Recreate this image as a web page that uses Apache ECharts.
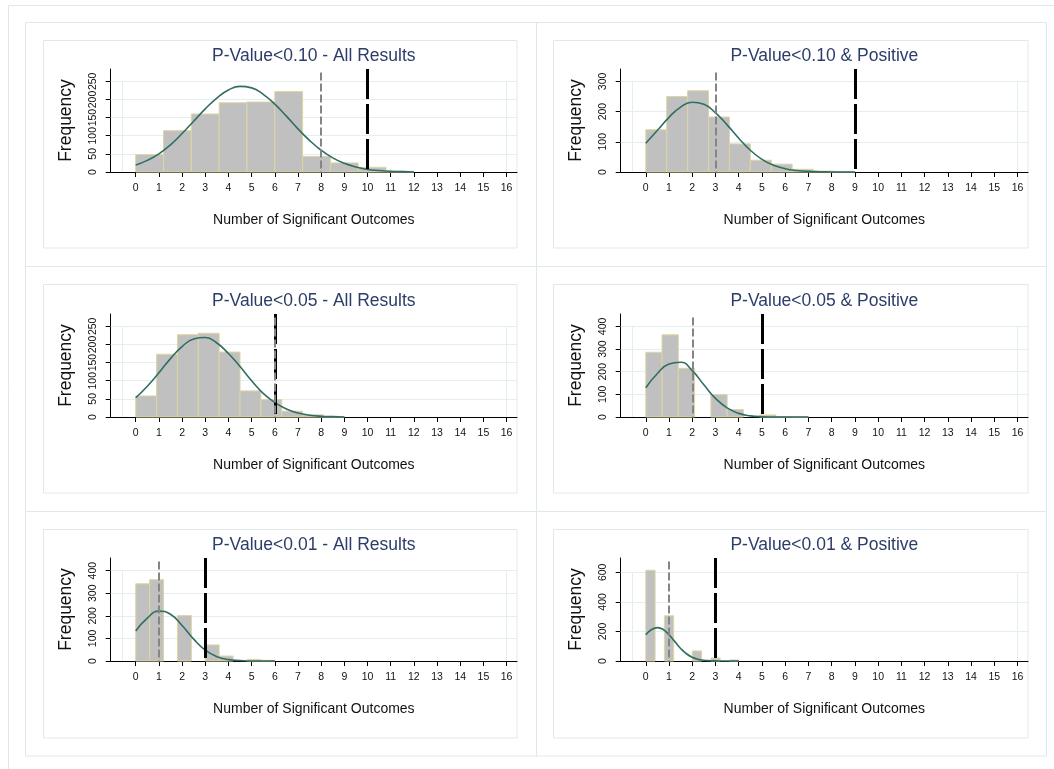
<!DOCTYPE html>
<html>
<head>
<meta charset="utf-8">
<script src="https://cdn.jsdelivr.net/npm/echarts@6/dist/echarts.min.js"></script>
<style>
  body, html { margin: 0; padding: 0; width: 100%; height: 100%; overflow: hidden; background: #fff; }
  #chart { width: 1054px; height: 769px; }
</style>
</head>
<body>
<div id="chart"></div>
<script>
// ---- data ----
var titles = [
  'P-Value<0.10 - All Results', 'P-Value<0.10 & Positive',
  'P-Value<0.05 - All Results', 'P-Value<0.05 & Positive',
  'P-Value<0.01 - All Results', 'P-Value<0.01 & Positive'
];
var xTicks = [0, 1, 2, 3, 4, 5, 6, 7, 8, 9, 10, 11, 12, 13, 14, 15, 16];
var yTicks = [
  [0, 50, 100, 150, 200, 250],
  [0, 100, 200, 300],
  [0, 50, 100, 150, 200, 250],
  [0, 100, 200, 300, 400],
  [0, 100, 200, 300, 400],
  [0, 200, 400, 600]
];
var yMax = [284, 341, 284, 455, 456, 697];

// histogram: bins start at 0, fixed width per panel
var binWidth = [1.2, 0.9, 0.9, 0.7, 0.6, 0.4];
var counts = [
  [48, 114, 160, 191, 193, 222, 43, 25, 13, 2],
  [140, 250, 269, 182, 93, 39, 26, 9, 3, 2],
  [58, 173, 227, 231, 179, 72, 48, 16, 6, 1],
  [286, 363, 215, 0, 99, 33, 0, 9, 2, 1],
  [342, 360, 0, 201, 0, 71, 22, 0, 7, 3],
  [614, 0, 306, 0, 0, 68, 0, 20, 0, 7]
];

// normal curve, sampled from 0 at a fixed step
var curveStep = [0.5, 0.5, 0.5, 0.5, 0.5, 0.25];
var curveY = [
  [19, 32, 50, 75, 106, 140, 174, 204, 226, 236, 232, 214, 187, 154, 119, 87, 60, 39, 24, 14, 7, 4, 2, 1, 0],
  [95, 138, 181, 215, 231, 224, 196, 156, 112, 72, 42, 22, 11, 5, 2, 1, 0, 0, 0],
  [53, 85, 122, 161, 194, 215, 219, 204, 175, 139, 100, 65, 40, 22, 11, 5, 2, 1, 0],
  [129, 192, 234, 242, 205, 142, 82, 40, 16, 5, 1, 0, 0, 0, 0],
  [133, 190, 221, 207, 157, 97, 48, 19, 6, 2, 0, 0, 0],
  [177, 213, 226, 213, 177, 131, 85, 49, 25, 11, 5, 2, 1, 0, 0, 0, 0]
];

// reference lines: grey = mean, black = threshold
var meanLine = [8, 3, 6, 2, 1, 1];
var threshLine = [10, 9, 6, 5, 3, 3];

// ---- layout ----
var FONT = '"Liberation Sans", Arial, sans-serif';
var boxColor = '#dfe9eb';
var gridLeft = [110.7, 620.7];
var gridRightEdge = [517, 1028];
var gridTop = [69, 314, 558];
var gridH = 103;
var boxX = [43.5, 553.5], boxW = [473.5, 474.5];
var boxY = [40.5, 284.5, 529.5], boxH = [207.5, 208.5, 208.5];
var titleY = [47, 292, 536];
var xMin = -1.08, xMax = 16.45, innerLeft = -0.6;

var grids = [], xAxes = [], yAxes = [], series = [], titleOpts = [], graphics = [];

graphics.push({ type: 'rect', shape: { x: 8.5, y: 5.5, width: 1100, height: 800 }, style: { fill: 'none', stroke: boxColor, lineWidth: 1 }, silent: true });
graphics.push({ type: 'rect', shape: { x: 25.5, y: 22.5, width: 1021, height: 733.5 }, style: { fill: 'none', stroke: boxColor, lineWidth: 1 }, silent: true });
graphics.push({ type: 'line', shape: { x1: 536.5, y1: 22.5, x2: 536.5, y2: 756 }, style: { stroke: boxColor, lineWidth: 1 }, silent: true });
graphics.push({ type: 'line', shape: { x1: 25.5, y1: 266.5, x2: 1046.5, y2: 266.5 }, style: { stroke: boxColor, lineWidth: 1 }, silent: true });
graphics.push({ type: 'line', shape: { x1: 25.5, y1: 511.5, x2: 1046.5, y2: 511.5 }, style: { stroke: boxColor, lineWidth: 1 }, silent: true });

for (var i = 0; i < 6; i++) {
  var r = Math.floor(i / 2), c = i % 2;
  var left = gridLeft[c];
  var width = gridRightEdge[c] - left;

  graphics.push({ type: 'rect', shape: { x: boxX[c], y: boxY[r], width: boxW[c], height: boxH[r] }, style: { fill: 'none', stroke: boxColor, lineWidth: 1 }, silent: true });

  grids.push({ left: left, top: gridTop[r], width: width, height: gridH, containLabel: false });

  titleOpts.push({
    text: titles[i], left: left + width / 2, top: titleY[r], textAlign: 'center', padding: 0,
    textStyle: { fontFamily: FONT, fontSize: 17.5, fontWeight: 'normal', color: '#2d3d6a' }
  });

  xAxes.push({
    type: 'value', gridIndex: i, min: xMin, max: xMax,
    name: 'Number of Significant Outcomes', nameLocation: 'middle', nameGap: 41,
    nameTextStyle: { fontFamily: FONT, fontSize: 14, color: '#111' },
    axisLine: { show: true, onZero: false, lineStyle: { color: '#000', width: 1 } },
    axisTick: { show: true, customValues: xTicks, length: 5, lineStyle: { color: '#000' } },
    axisLabel: { customValues: xTicks, margin: 11, fontFamily: FONT, fontSize: 10.5, color: '#111' },
    splitLine: { show: false }
  });

  yAxes.push({
    type: 'value', gridIndex: i, min: 0, max: yMax[i],
    name: 'Frequency', nameLocation: 'middle', nameRotate: 90, nameGap: 36,
    nameTextStyle: { fontFamily: FONT, fontSize: 17.5, color: '#111' },
    axisLine: { show: true, onZero: false, lineStyle: { color: '#000', width: 1 } },
    axisTick: { show: true, customValues: yTicks[i], length: 5, lineStyle: { color: '#000' } },
    axisLabel: { customValues: yTicks[i], rotate: 90, margin: 12, fontFamily: FONT, fontSize: 10.5, color: '#111' },
    splitLine: { show: false }
  });

  // light grid lines and inner plot-region box
  var topTick = yTicks[i][yTicks[i].length - 1];
  var gridData = yTicks[i].slice(1).map(function (v) {
    return { coords: [[xMin, v], [xMax, v]] };
  });
  gridData.push({ coords: [[innerLeft, 0], [innerLeft, topTick]] });
  gridData.push({ coords: [[xTicks[xTicks.length - 1], 0], [xTicks[xTicks.length - 1], topTick]] });
  series.push({
    type: 'lines', coordinateSystem: 'cartesian2d', xAxisIndex: i, yAxisIndex: i, silent: true,
    lineStyle: { color: '#e3eef0', width: 1, opacity: 1 }, data: gridData, z: 1
  });

  // histogram bars
  (function (w) {
    series.push({
      type: 'custom', xAxisIndex: i, yAxisIndex: i, silent: true, z: 2,
      data: counts[i].map(function (v, k) { return [k * w, (k + 1) * w, v]; }),
      encode: { x: [0, 1], y: 2 },
      renderItem: function (params, api) {
        if (api.value(2) <= 0) return null;
        var p0 = api.coord([api.value(0), api.value(2)]);
        var p1 = api.coord([api.value(1), 0]);
        return {
          type: 'rect',
          shape: { x: p0[0], y: p0[1], width: p1[0] - p0[0], height: p1[1] - p0[1] },
          style: { fill: '#c0c0c0', stroke: '#ddd6a0', lineWidth: 1 }
        };
      }
    });
  })(binWidth[i]);

  // normal density curve
  series.push({
    type: 'line', xAxisIndex: i, yAxisIndex: i, silent: true, z: 3,
    showSymbol: false, smooth: 0.5, clip: true,
    lineStyle: { color: '#2f6e65', width: 1.6 },
    data: curveY[i].map(function (v, k) { return [k * curveStep[i], v]; })
  });

  // reference lines (black threshold first, grey mean drawn over it)
  series.push({
    type: 'lines', coordinateSystem: 'cartesian2d', xAxisIndex: i, yAxisIndex: i, silent: true, z: 4,
    data: [
      { coords: [[threshLine[i], yMax[i]], [threshLine[i], 0]],
        lineStyle: { color: '#000', width: 3, type: [30, 5], opacity: 1 } },
      { coords: [[meanLine[i], yMax[i] * 0.967], [meanLine[i], 0]],
        lineStyle: { color: '#858585', width: 2, type: [8, 3], opacity: 1 } }
    ]
  });
}

var chart = echarts.init(document.getElementById('chart'));
chart.setOption({
  animation: false,
  backgroundColor: '#fff',
  title: titleOpts,
  grid: grids,
  xAxis: xAxes,
  yAxis: yAxes,
  series: series,
  graphic: graphics
});
</script>
</body>
</html>
